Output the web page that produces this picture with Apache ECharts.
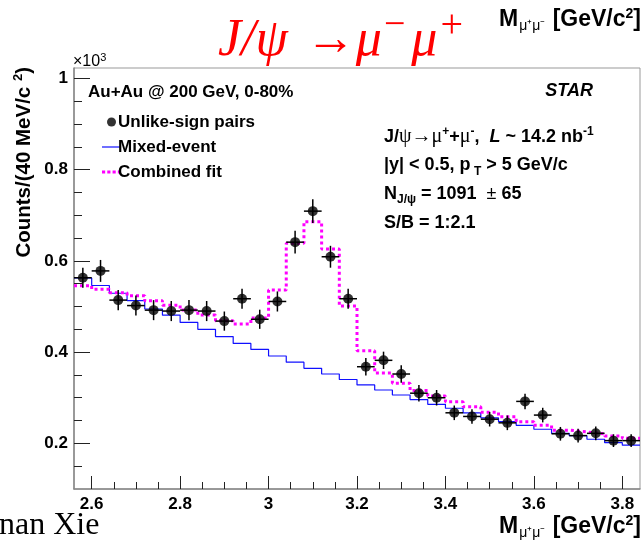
<!DOCTYPE html>
<html><head><meta charset="utf-8">
<script src="https://cdn.jsdelivr.net/npm/echarts@6/dist/echarts.min.js"></script>
<style>html,body{margin:0;padding:0;background:#fff}#c{width:641px;height:544px}</style>
</head><body><div id="c"></div>
<script>
// ---- data (counts in units of 10^3 per 40 MeV/c^2) ----
const binCenters = [2.58,2.62,2.66,2.70,2.74,2.78,2.82,2.86,2.90,2.94,2.98,3.02,3.06,3.10,3.14,3.18,
                    3.22,3.26,3.30,3.34,3.38,3.42,3.46,3.50,3.54,3.58,3.62,3.66,3.70,3.74,3.78,3.82];
const binWidth = 0.04;
const unlikeSign = [0.563,0.578,0.514,0.502,0.492,0.490,0.492,0.490,0.468,0.517,0.472,0.511,0.641,0.709,0.609,0.517,
                    0.368,0.382,0.352,0.310,0.300,0.267,0.259,0.253,0.245,0.292,0.262,0.221,0.217,0.222,0.206,0.206];
const unlikeErr  = [0.022,0.024,0.022,0.022,0.022,0.022,0.022,0.022,0.021,0.022,0.021,0.022,0.025,0.026,0.024,0.022,
                    0.019,0.019,0.019,0.018,0.017,0.016,0.016,0.016,0.016,0.017,0.016,0.015,0.015,0.015,0.014,0.014];
const mixedEvent = [0.5625,0.546,0.529,0.513,0.4945,0.481,0.465,0.450,0.434,0.419,0.406,0.3915,0.378,0.3645,0.352,0.340,
                    0.328,0.317,0.306,0.296,0.2856,0.277,0.267,0.256,0.2475,0.2396,0.231,0.222,0.2168,0.209,0.2015,0.196];
const combinedFit = [0.5456,0.538,0.530,0.5237,0.5127,0.5026,0.4923,0.4814,0.469,0.4617,0.475,0.536,0.6385,0.686,0.626,0.501,
                     0.403,0.354,0.332,0.316,0.304,0.291,0.280,0.268,0.2585,0.2475,0.2396,0.229,0.225,0.221,0.216,0.211];
const xTickLabels = [2.6,2.8,3.0,3.2,3.4,3.6,3.8];
const xMinorTicks = [2.6,2.65,2.7,2.75,2.8,2.85,2.9,2.95,3.0,3.05,3.1,3.15,3.2,3.25,3.3,3.35,3.4,3.45,3.5,3.55,3.6,3.65,3.7,3.75,3.8];
const yTickLabels = [0.2,0.4,0.6,0.8,1.0];
const yMinorTicks = [0.15,0.2,0.25,0.3,0.35,0.4,0.45,0.5,0.55,0.6,0.65,0.7,0.75,0.8,0.85,0.9,0.95,1.0];

// histogram step points from bin edges
function stepPoints(vals){
  const pts = binCenters.map((c,i)=>[+(c-binWidth/2).toFixed(3), vals[i]]);
  const last = binCenters.length-1;
  pts.push([+(binCenters[last]+binWidth/2).toFixed(3), vals[last]]);
  return pts;
}
const fmt = v => String(+(+v).toFixed(2));
const SANS = 'Liberation Sans, Arial, Helvetica, sans-serif';
const SERIF = 'Liberation Serif, Times New Roman, serif';

const chart = echarts.init(document.getElementById('c'), null, {renderer:'canvas'});
const tickStyle = {color:'#222', width:1};
const axisLineStyle = {color:'#888', width:1.5};
const massTitle = {
  text:'{m|M}{b|μ⁺μ⁻}{m| [GeV/c}{p|2}{m|]}', align:'right', verticalAlign:'middle',
  rich:{
    m:{fontFamily:SANS, fontWeight:'bold', fontSize:23, fill:'#000'},
    b:{fontFamily:SANS, fontSize:14, fill:'#000', padding:[13,1,0,1]},
    p:{fontFamily:SANS, fontWeight:'bold', fontSize:14, fill:'#000', padding:[0,0,11,0]}
  }};

chart.setOption({
  animation:false,
  grid:{left:74, top:68, width:566, height:421, show:true, borderColor:'#999', borderWidth:1, backgroundColor:'transparent'},
  xAxis:[
    {type:'value', min:2.56, max:3.84, position:'bottom',
     axisLine:{show:true, onZero:false, lineStyle:axisLineStyle},
     axisTick:{show:true, inside:true, length:13, customValues:xTickLabels, lineStyle:tickStyle},
     axisLabel:{show:true, customValues:xTickLabels, formatter:fmt, fontFamily:SANS, fontWeight:'bold', fontSize:17, color:'#000', margin:7},
     splitLine:{show:false}},
    {type:'value', min:2.56, max:3.84, position:'bottom',
     axisLine:{show:false, onZero:false},
     axisTick:{show:true, inside:true, length:7, customValues:xMinorTicks, lineStyle:tickStyle},
     axisLabel:{show:false}, splitLine:{show:false}}
  ],
  yAxis:[
    {type:'value', min:0.1, max:1.0227, position:'left',
     axisLine:{show:true, onZero:false, lineStyle:axisLineStyle},
     axisTick:{show:true, inside:true, length:16, customValues:yTickLabels, lineStyle:tickStyle},
     axisLabel:{show:true, customValues:yTickLabels, formatter:fmt, fontFamily:SANS, fontWeight:'bold', fontSize:17, color:'#000', margin:6},
     splitLine:{show:false}},
    {type:'value', min:0.1, max:1.0227, position:'left',
     axisLine:{show:false, onZero:false},
     axisTick:{show:true, inside:true, length:8, customValues:yMinorTicks, lineStyle:tickStyle},
     axisLabel:{show:false}, splitLine:{show:false}}
  ],
  legend:{
    orient:'vertical', left:97, top:107, itemWidth:19, itemHeight:9, itemGap:5,
    textStyle:{fontFamily:SANS, fontWeight:'bold', fontSize:17, color:'#000', lineHeight:20, padding:[0,0,0,-8]},
    data:[
      {name:'Unlike-sign pairs', icon:'circle'},
      {name:'Mixed-event', icon:'path://M0,0H19V1.2H0Z'},
      {name:'Combined fit', icon:'path://M0,0h3v3h-3zM5,0h3v3h-3zM10,0h3v3h-3zM15,0h3v3h-3z'}
    ]
  },
  series:[
    {name:'Mixed-event', type:'line', xAxisIndex:0, yAxisIndex:0, step:'end', symbol:'none',
     data:stepPoints(mixedEvent), lineStyle:{color:'#1010ff', width:1.2}, itemStyle:{color:'#1010ff'}, z:2},
    {name:'Combined fit', type:'line', xAxisIndex:0, yAxisIndex:0, step:'end', symbol:'none',
     data:stepPoints(combinedFit), lineStyle:{color:'#ff00ff', width:3, type:[3,3]}, itemStyle:{color:'#ff00ff'}, z:3},
    {name:'errors', type:'custom', xAxisIndex:0, yAxisIndex:0, z:4,
     data:binCenters.map((c,i)=>[c, unlikeSign[i], unlikeErr[i]]),
     encode:{x:0, y:1},
     renderItem:function(params, api){
       const x = api.value(0), y = api.value(1), e = api.value(2);
       const a = api.coord([x, y-e]), b = api.coord([x, y+e]);
       const l = api.coord([x-binWidth/2, y]), r = api.coord([x+binWidth/2, y]);
       const st = {stroke:'#000', lineWidth:1.5};
       return {type:'group', children:[
         {type:'line', shape:{x1:a[0], y1:a[1], x2:b[0], y2:b[1]}, style:st},
         {type:'line', shape:{x1:l[0], y1:l[1], x2:r[0], y2:r[1]}, style:st}
       ]};
     }},
    {name:'Unlike-sign pairs', type:'scatter', xAxisIndex:0, yAxisIndex:0, symbol:'circle', symbolSize:10,
     data:binCenters.map((c,i)=>[c, unlikeSign[i]]), itemStyle:{color:'#000'}, z:5}
  ],
  graphic:[
    {type:'text', x:218, y:41, style:{
      text:'{i|J/ψ}{a|→}{i|μ}{s|−}{i|μ}{t|+}', verticalAlign:'middle', align:'left',
      rich:{
        i:{fontFamily:SERIF, fontStyle:'italic', fontSize:52, fill:'#ff0000'},
        a:{fontFamily:SERIF, fontSize:50, fill:'#ff0000', padding:[0,0,0,18]},
        s:{fontFamily:SERIF, fontSize:38, fill:'#ff0000', padding:[0,6,30,2]},
        t:{fontFamily:SERIF, fontSize:40, fill:'#ff0000', padding:[0,0,30,3]}
      }}},
    {type:'text', x:641, y:20, style:massTitle},
    {type:'text', x:641, y:527, style:massTitle},
    {type:'text', x:-1, y:526, style:{text:'nan Xie', fontFamily:SERIF, fontSize:32, fill:'#000', verticalAlign:'middle', align:'left'}},
    {type:'text', x:73, y:62, style:{
      text:'{n|×10}{p|3}', verticalAlign:'middle', align:'left',
      rich:{
        n:{fontFamily:SANS, fontSize:16, fill:'#000'},
        p:{fontFamily:SANS, fontSize:11, fill:'#000', padding:[0,0,9,0]}
      }}},
    {type:'text', x:24, y:67, rotation:Math.PI/2, style:{
      text:'{n|Counts/(40 MeV/c }{p|2}{n|)}', align:'right', verticalAlign:'middle',
      rich:{
        n:{fontFamily:SANS, fontWeight:'bold', fontSize:20.5, fill:'#000'},
        p:{fontFamily:SANS, fontWeight:'bold', fontSize:13, fill:'#000', padding:[0,0,11,0]}
      }}},
    {type:'text', x:88, y:92, style:{text:'Au+Au @ 200 GeV, 0-80%', fontFamily:SANS, fontWeight:'bold', fontSize:17, fill:'#000', verticalAlign:'middle'}},
    {type:'text', x:593, y:91, style:{text:'STAR', fontFamily:SANS, fontWeight:'bold', fontStyle:'italic', fontSize:18, fill:'#000', align:'right', verticalAlign:'middle'}},
    {type:'text', x:384, y:137, style:{
      text:'{n|J/}{g|ψ→μ}{p|+}{n|+}{g|μ}{p|-}{n|,  }{l|L}{n| ~ 14.2 nb}{p|-1}', verticalAlign:'middle',
      rich:{
        n:{fontFamily:SANS, fontWeight:'bold', fontSize:18, fill:'#000'},
        g:{fontFamily:SERIF, fontSize:20, fill:'#000'},
        l:{fontFamily:SANS, fontWeight:'bold', fontStyle:'italic', fontSize:18, fill:'#000'},
        p:{fontFamily:SANS, fontWeight:'bold', fontSize:12, fill:'#000', padding:[0,0,11,0]}
      }}},
    {type:'text', x:384, y:165, style:{
      text:'{n||y| < 0.5, p}{b| T}{n| > 5 GeV/c}', verticalAlign:'middle',
      rich:{
        n:{fontFamily:SANS, fontWeight:'bold', fontSize:18, fill:'#000'},
        b:{fontFamily:SANS, fontWeight:'bold', fontSize:12, fill:'#000', padding:[14,0,0,0]}
      }}},
    {type:'text', x:384, y:194, style:{
      text:'{n|N}{b|J/ψ}{n| = 1091  }{g|±}{n| 65}', verticalAlign:'middle',
      rich:{
        n:{fontFamily:SANS, fontWeight:'bold', fontSize:18, fill:'#000'},
        b:{fontFamily:SANS, fontWeight:'bold', fontSize:12, fill:'#000', padding:[12,0,0,0]},
        g:{fontFamily:SANS, fontSize:18, fill:'#000'}
      }}},
    {type:'text', x:384, y:223, style:{text:'S/B = 1:2.1', fontFamily:SANS, fontWeight:'bold', fontSize:18, fill:'#000', verticalAlign:'middle'}}
  ]
});
</script>
</body></html>
